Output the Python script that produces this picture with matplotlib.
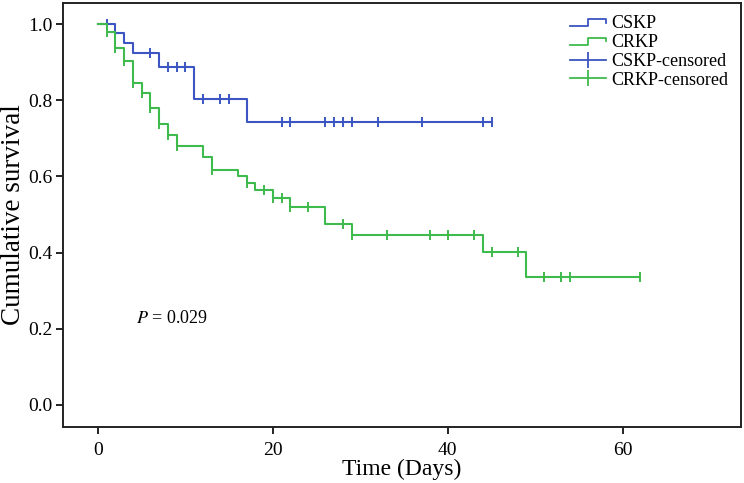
import numpy as np
import matplotlib
matplotlib.use('Agg')
import matplotlib.pyplot as plt
from matplotlib.lines import Line2D
from matplotlib.legend_handler import HandlerBase

plt.rcParams['font.family'] = ['Liberation Serif', 'DejaVu Serif']
plt.rcParams['mathtext.fontset'] = 'stix'

# Kaplan-Meier steps (time of drop, survival after drop)
cskp_times = [0, 2, 3, 4, 7, 11, 17]
cskp_surv = [1.0, 0.976, 0.951, 0.924, 0.888, 0.803, 0.743]
cskp_end = 45
cskp_censored = [1, 6, 8, 9, 10, 12, 14, 15, 21, 22, 26, 27, 28, 29, 32, 37, 44, 45]

crkp_times = [0, 1, 2, 3, 4, 5, 6, 7, 8, 9, 12, 13, 16, 17, 18, 20, 22, 26, 29, 44, 49]
crkp_surv = [1.0, 0.979, 0.936, 0.903, 0.845, 0.819, 0.780, 0.738, 0.709, 0.681,
             0.651, 0.617, 0.601, 0.583, 0.564, 0.543, 0.520, 0.475, 0.447, 0.402, 0.336]
crkp_end = 62
crkp_censored = [1, 2, 3, 4, 5, 6, 7, 8, 9, 13, 17, 19, 20, 21, 22, 24, 28, 29,
                 33, 38, 40, 43, 45, 48, 51, 53, 54, 62]

p_text = '$P$ = 0.029'

blue = '#3c55c2'
green = '#3fba4c'


class StepHandler(HandlerBase):
    """legend handle drawn as a small step"""
    def create_artists(self, legend, orig_handle, xdescent, ydescent,
                       width, height, fontsize, trans):
        x0 = -xdescent
        y0 = -ydescent
        xs = [x0, x0 + 0.5 * width, x0 + 0.5 * width, x0 + width, x0 + width]
        ys = [y0 + 0.15 * height, y0 + 0.15 * height, y0 + 0.75 * height,
              y0 + 0.75 * height, y0 + 0.45 * height]
        line = Line2D(xs, ys, color=orig_handle.get_color(), lw=1.3, transform=trans)
        return [line]


def survival_at(times, surv, t):
    idx = np.searchsorted(times, t, side='right') - 1
    return np.asarray(surv)[idx]


fig = plt.figure(figsize=(7.44, 4.83), dpi=100)
ax = fig.add_axes([0.0853, 0.116, 0.9103, 0.8784])

for times, surv, end, cens, col in [
        (cskp_times, cskp_surv, cskp_end, cskp_censored, blue),
        (crkp_times, crkp_surv, crkp_end, crkp_censored, green)]:
    xs = list(times) + [end]
    ys = list(surv) + [surv[-1]]
    ax.step(xs, ys, where='post', color=col, lw=1.5)
    cy = survival_at(times, surv, cens)
    ax.plot(cens, cy, ls='none', marker='|', markersize=7, markeredgewidth=1.4, color=col)

ax.text(4.3, 0.228, p_text, fontsize=13, va='center', ha='left')

ax.set_xlim(-3.95, 73.5)
ax.set_ylim(-0.058, 1.056)
ax.set_xticks([0, 20, 40, 60])
ax.set_yticks([0.0, 0.2, 0.4, 0.6, 0.8, 1.0])
ax.set_yticklabels(['%.1f' % v for v in [0.0, 0.2, 0.4, 0.6, 0.8, 1.0]])
ax.tick_params(labelsize=14, length=5, width=1.4, color='#222222', pad=3)
ax.tick_params(axis='x', pad=6)
for sp in ax.spines.values():
    sp.set_linewidth(1.4)
    sp.set_color('#222222')
ax.set_xlabel('Time (Days)', fontsize=17, labelpad=0)
ax.set_ylabel('Cumulative survival', fontsize=19.5, va='center')
ax.yaxis.set_label_coords(-0.074, 0.5)

h1 = Line2D([], [], color=blue)
h2 = Line2D([], [], color=green)
h3 = Line2D([], [], color=blue, marker='|', markersize=12, markeredgewidth=1.3, lw=1.3)
h4 = Line2D([], [], color=green, marker='|', markersize=12, markeredgewidth=1.3, lw=1.3)
ax.legend([h1, h2, h3, h4], ['CSKP', 'CRKP', 'CSKP-censored', 'CRKP-censored'],
          handler_map={h1: StepHandler(), h2: StepHandler()},
          loc='upper right', frameon=False, fontsize=13, handlelength=2.0,
          handletextpad=0.3, labelspacing=0.1, borderaxespad=0.3)

fig.savefig('out.png', dpi=100)
